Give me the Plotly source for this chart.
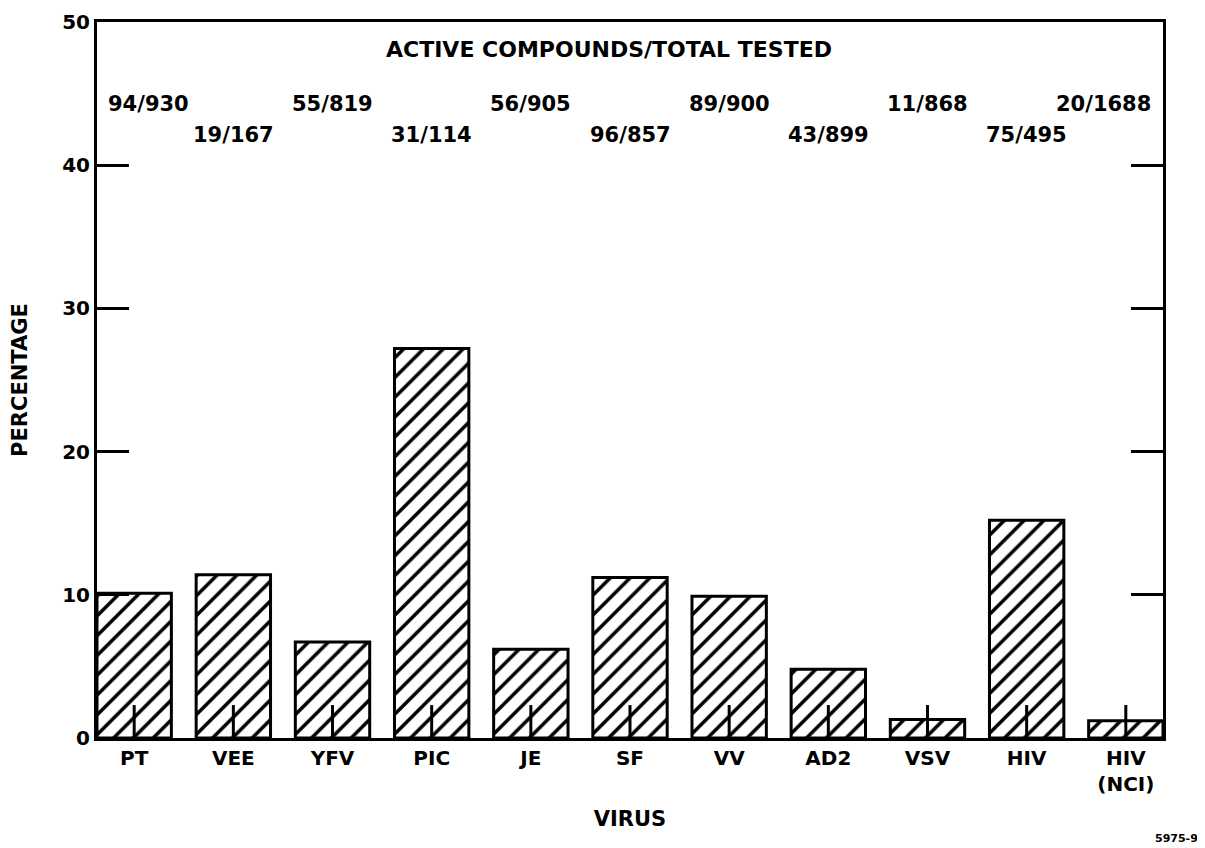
import plotly.graph_objects as go

categories = ["PT", "VEE", "YFV", "PIC", "JE", "SF", "VV", "AD2", "VSV", "HIV", "HIV<br>(NCI)"]
percentages = [10.1, 11.4, 6.7, 27.2, 6.2, 11.2, 9.9, 4.8, 1.3, 15.2, 1.2]
ratio_labels = ["94/930", "19/167", "55/819", "31/114", "56/905", "96/857",
                "89/900", "43/899", "11/868", "75/495", "20/1688"]
ratio_rows = [44.3, 42.1, 44.3, 42.1, 44.3, 42.1, 44.3, 42.1, 44.3, 42.1, 44.3]
stub_height = 2.3
y_ticks = [0, 10, 20, 30, 40, 50]

FONT = "DejaVu Sans"

fig = go.Figure()
fig.add_trace(go.Bar(
    x=categories, y=percentages, width=0.75,
    marker=dict(color="white", line=dict(color="black", width=3),
                pattern=dict(shape="/", size=14, solidity=0.25, fgopacity=1,
                             fgcolor="black", bgcolor="white", fillmode="overlay")),
    showlegend=False, hoverinfo="skip",
))

# small stubs at each bar centre
sx, sy = [], []
for c in categories:
    sx += [c, c, None]
    sy += [0, stub_height, None]
fig.add_trace(go.Scatter(x=sx, y=sy, mode="lines", line=dict(color="black", width=3),
                         showlegend=False, hoverinfo="skip"))

annotations = []
annotations.append(dict(x=0.48, xref="paper", y=48.1, yref="y", text="<b>ACTIVE COMPOUNDS/TOTAL TESTED</b>",
                        showarrow=False, font=dict(family=FONT, size=22, color="black")))
n = len(categories)
for i, (c, lab, yy) in enumerate(zip(categories, ratio_labels, ratio_rows)):
    xshift = 0
    if i == 0:
        xshift = 14
    elif i == n - 1:
        xshift = -22
    annotations.append(dict(x=c, y=yy, xref="x", yref="y", text="<b>" + lab + "</b>", showarrow=False,
                            xshift=xshift, font=dict(family=FONT, size=21, color="black")))
annotations.append(dict(x=1.035, xref="paper", y=-0.14, yref="paper", yanchor="middle",
                        text="<b>5975-9</b>", showarrow=False,
                        font=dict(family=FONT, size=11, color="black")))

fig.update_layout(
    width=1205, height=848,
    margin=dict(l=89, r=50, t=14, b=118, autoexpand=False),
    paper_bgcolor="white", plot_bgcolor="white",
    font=dict(family=FONT, size=20, color="black"),
    bargap=0.25,
    annotations=annotations,
)
fig.update_xaxes(
    range=[-0.375, 10.375], showline=True, linecolor="black", linewidth=3, mirror=True,
    ticks="", tickfont=dict(family=FONT, size=20), showgrid=False, zeroline=False,
    tickprefix="<b>", ticksuffix="</b>", automargin=False,
    title=dict(text="<b>VIRUS</b>", font=dict(family=FONT, size=21), standoff=17),
)
fig.update_yaxes(
    range=[0, 50], tickvals=y_ticks, ticktext=["<b>%d</b>" % v for v in y_ticks],
    showline=True, linecolor="black", linewidth=3, mirror="ticks",
    ticks="inside", ticklen=32, tickwidth=3, tickcolor="black", automargin=False,
    showgrid=False, zeroline=False, tickfont=dict(family=FONT, size=20),
    title=dict(text="<b>PERCENTAGE</b>", font=dict(family=FONT, size=21), standoff=30),
)

fig.write_html("out.html")
